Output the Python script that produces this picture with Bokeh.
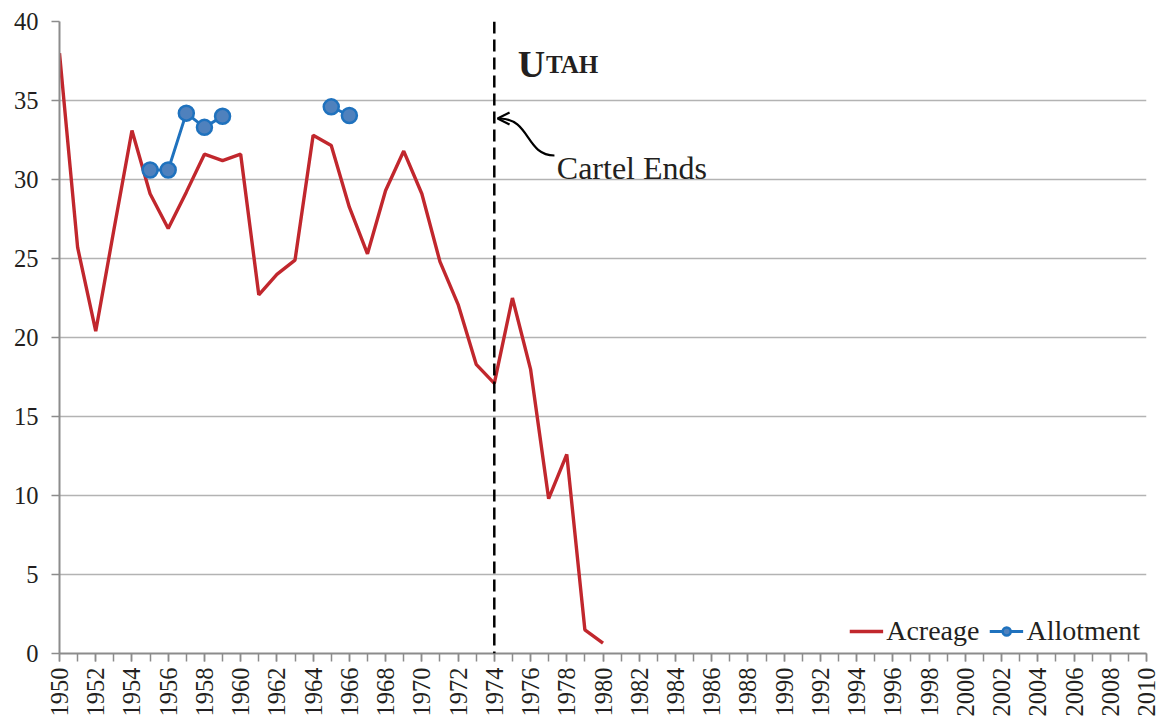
import numpy as np
from bokeh.plotting import figure
from bokeh.models import (ColumnDataSource, Span, Legend, LegendItem, FixedTicker,
                          Arrow, OpenHead, Label)
from bokeh.embed import file_html
from bokeh.resources import INLINE

nan = float("nan")
years = list(range(1950, 1981))
acreage = [38.0, 25.7, 20.4, 26.8, 33.1, 29.1, 26.9, 29.2, 31.6, 31.2,
           31.6, 22.7, 24.0, 24.9, 32.8, 32.15, 28.25, 25.3, 29.3, 31.8,
           29.1, 24.8, 22.1, 18.3, 17.1, 22.5, 18.0, 9.8, 12.6, 1.5, 0.65]
allot_years = [1955, 1956, 1957, 1958, 1959, 1960, 1961, 1962, 1963, 1964, 1965, 1966]
allotment = [30.6, 30.6, 34.2, 33.3, 34.0, nan, nan, nan, nan, nan, 34.6, 34.05]
cartel_end_year = 1974
x_ticks = list(range(1950, 2011, 2))
y_ticks = list(range(0, 41, 5))

FONT = "Liberation Serif"
TXT = "#231f20"
RED = "#c1272d"
BLUE = "#1f72be"

p = figure(frame_width=1087, frame_height=632, output_backend="svg", toolbar_location=None,
           x_range=(1950, 2010), y_range=(0, 40),
           min_border_left=59, min_border_top=21, min_border_right=13, min_border_bottom=70)
p.outline_line_color = None
p.background_fill_color = "white"
p.border_fill_color = "white"

# grid
p.xgrid.grid_line_color = None
p.ygrid.grid_line_color = "#b3b3b3"
p.ygrid.grid_line_width = 1.5

# axes
p.xaxis.ticker = FixedTicker(ticks=x_ticks, minor_ticks=years + list(range(1981, 2011)))
p.yaxis.ticker = FixedTicker(ticks=y_ticks)
for ax in (p.xaxis[0], p.yaxis[0]):
    ax.axis_line_color = "#8c8c8c"
    ax.axis_line_width = 2
    ax.major_tick_line_color = "#8c8c8c"
    ax.major_tick_line_width = 1.5
    ax.major_tick_in = 0
    ax.major_tick_out = 8
    ax.minor_tick_line_color = "#8c8c8c"
    ax.minor_tick_line_width = 1.5
    ax.minor_tick_in = 0
    ax.minor_tick_out = 8
    ax.major_label_text_font = FONT
    ax.major_label_text_font_size = "24.5px"
    ax.major_label_text_color = TXT
p.yaxis.minor_tick_line_color = None
p.xaxis.major_label_orientation = np.pi / 2
p.xaxis.major_label_standoff = 6
p.yaxis.major_label_standoff = 13

src_a = ColumnDataSource(dict(x=years, y=acreage))
src_b = ColumnDataSource(dict(x=allot_years, y=allotment))

r_a = p.line("x", "y", source=src_a, line_color=RED, line_width=3.4)
r_bl = p.line("x", "y", source=src_b, line_color=BLUE, line_width=3)
r_bs = p.scatter("x", "y", source=src_b, size=15, fill_color="#4f81bd",
                 line_color=BLUE, line_width=2.5)

# cartel end line
p.add_layout(Span(location=cartel_end_year, dimension="height", line_color="black",
                  line_width=2.5, line_dash="12 6"))

# title UTAH in small caps
p.add_layout(Label(x=1975.3, y=37.28, text="U", text_font=FONT, text_font_style="bold",
                   text_font_size="38px", text_color=TXT, text_baseline="alphabetic"))
p.add_layout(Label(x=1976.85, y=37.28, text="TAH", text_font=FONT, text_font_style="bold",
                   text_font_size="25px", text_color=TXT, text_baseline="alphabetic"))

# annotation
p.add_layout(Label(x=1977.45, y=30.7, text="Cartel Ends", text_font=FONT,
                   text_font_size="32px", text_color=TXT, text_baseline="alphabetic"))
p.bezier(x0=[1977.32], y0=[31.52], x1=[1974.29], y1=[33.86],
         cx0=[1975.72], cy0=[31.52], cx1=[1976.0], cy1=[33.86],
         line_color="black", line_width=2.2)
p.add_layout(Arrow(end=OpenHead(size=12, line_width=2.2, line_color="black"),
                   x_start=1974.35, y_start=33.86, x_end=1974.18, y_end=33.86,
                   line_color="black", line_width=2.2))

legend = Legend(items=[LegendItem(label="Acreage", renderers=[r_a]),
                       LegendItem(label="Allotment", renderers=[r_bl, r_bs])],
                location="bottom_right", orientation="horizontal",
                label_text_font=FONT, label_text_font_size="28px", label_text_color=TXT,
                glyph_width=34, label_standoff=3, spacing=10, padding=2, margin=6,
                border_line_color=None, background_fill_alpha=0)
p.add_layout(legend)

open("out.html", "w").write(file_html(p, INLINE))
